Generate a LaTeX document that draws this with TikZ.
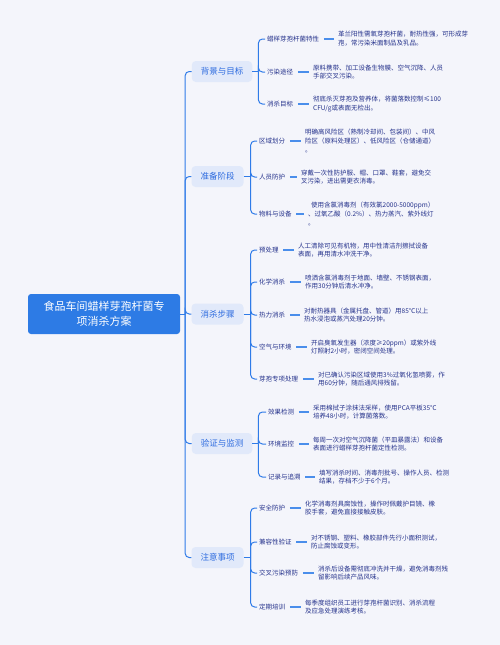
\documentclass[tikz,border=0pt]{standalone}
\usepackage{fontspec}
\setmainfont{Noto Sans CJK SC}
\definecolor{bg}{HTML}{F4F5FB}
\definecolor{rootc}{HTML}{2D7BE5}
\definecolor{catf}{HTML}{E1E9FA}
\definecolor{catt}{HTML}{2D6BDF}
\definecolor{lnc}{HTML}{2F7BE8}
\definecolor{leafc}{HTML}{4A8EEB}
\definecolor{navy}{HTML}{26338C}
\tikzset{
 rootbox/.style={fill=rootc, rounded corners=3pt, text=white, minimum width=152pt, minimum height=40pt, align=center, font=\fontsize{11}{15}\selectfont, inner sep=0},
 catbox/.style={fill=catf, rounded corners=4pt, text=catt, minimum height=21pt, inner xsep=9pt, inner ysep=0, font=\fontsize{8.5}{10}\selectfont},
 lab/.style={anchor=west, inner sep=0, text=navy, font=\fontsize{6.5}{8}\selectfont},
 leaf/.style={anchor=west, inner sep=0, text=navy, align=left, font=\fontsize{6.5}{8.8}\selectfont},
 br/.style={draw=lnc, line width=1pt, rounded corners=4pt},
 lk/.style={draw=leafc, line width=1.6pt, shorten <=4.5pt, shorten >=4.5pt},
}
\begin{document}
\begin{tikzpicture}[x=1pt,y=-1pt]
\path[fill=bg,use as bounding box] (0,0) rectangle (500,645);

% root and categories
\node[rootbox] (root) at (104,314) {食品车间蜡样芽孢杆菌专\\项消杀方案};
\node[catbox] (c1) at (222,71.5) {背景与目标};
\node[catbox] (c2) at (217.5,176.5) {准备阶段};
\node[catbox] (c3) at (217.5,314) {消杀步骤};
\node[catbox] (c4) at (222,443.5) {验证与监测};
\node[catbox] (c5) at (217.5,557.5) {注意事项};

\draw[br] (root.east) -- ++(5,0) coordinate (t);
\foreach \c in {c1,c2,c3,c4,c5} \draw[br] (t) |- (\c.west);

% ---------- 背景与目标
\draw[br] (c1.east) -- ++(6,0) coordinate (s1);
\node[lab] (b11) at (267,39) {蜡样芽孢杆菌特性};
\node[leaf] (l11) at (338,39) {革兰阳性需氧芽孢杆菌，耐热性强，可形成芽\\孢，常污染米面制品及乳品。};
\node[lab] (b12) at (267,72) {污染途径};
\node[leaf] (l12) at (313,72) {原料携带、加工设备生物膜、空气沉降、人员\\手部交叉污染。};
\node[lab] (b13) at (267,104) {消杀目标};
\node[leaf] (l13) at (313,104) {彻底杀灭芽孢及营养体，将菌落数控制≤100\\CFU/g或表面无检出。};

% ---------- 准备阶段
\draw[br] (c2.east) -- ++(7,0) coordinate (s2);
\node[lab] (b21) at (259,141) {区域划分};
\node[leaf] (l21) at (305,141) {明确高风险区（熟制冷却间、包装间）、中风\\险区（原料处理区）、低风险区（仓储通道）\\。};
\node[lab] (b22) at (259,177) {人员防护};
\node[leaf] (l22) at (301,177) {穿戴一次性防护服、帽、口罩、鞋套，避免交\\叉污染，进出需更衣消毒。};
\node[lab] (b23) at (259,214) {物料与设备};
\node[leaf] (l23) at (308,214) {\hspace*{3pt}使用含氯消毒剂（有效氯2000-5000ppm）\\、过氧乙酸（0.2\%）、热力蒸汽、紫外线灯\\。};

% ---------- 消杀步骤
\draw[br] (c3.east) -- ++(7,0) coordinate (s3);
\node[lab] (b31) at (259,250) {预处理};
\node[leaf] (l31) at (298,250) {人工清除可见有机物，用中性清洁剂擦拭设备\\表面，再用清水冲洗干净。};
\node[lab] (b32) at (259,282) {化学消杀};
\node[leaf] (l32) at (305,282) {喷洒含氯消毒剂于地面、墙壁、不锈钢表面，\\作用30分钟后清水冲净。};
\node[lab] (b33) at (259,315) {热力消杀};
\node[leaf] (l33) at (304,315) {对耐热器具（金属托盘、管道）用85℃以上\\热水浸泡或蒸汽处理20分钟。};
\node[lab] (b34) at (259,347) {空气与环境};
\node[leaf] (l34) at (311,347) {开启臭氧发生器（浓度≥20ppm）或紫外线\\灯照射2小时，密闭空间处理。};
\node[lab] (b35) at (259,379) {芽孢专项处理};
\node[leaf] (l35) at (318,379) {对已确认污染区域使用3\%过氧化氢喷雾，作\\用60分钟，随后通风排残留。};

% ---------- 验证与监测
\draw[br] (c4.east) -- ++(6,0) coordinate (s4);
\node[lab] (b41) at (268,412) {效果检测};
\node[leaf] (l41) at (313,412) {采用棉拭子涂抹法采样，使用PCA平板35℃\\培养48小时，计算菌落数。};
\node[lab] (b42) at (268,444) {环境监控};
\node[leaf] (l42) at (313,444) {每周一次对空气沉降菌（平皿暴露法）和设备\\表面进行蜡样芽孢杆菌定性检测。};
\node[lab] (b43) at (268,477) {记录与追溯};
\node[leaf] (l43) at (319,477) {填写消杀时间、消毒剂批号、操作人员、检测\\结果，存档不少于6个月。};

% ---------- 注意事项
\draw[br] (c5.east) -- ++(7,0) coordinate (s5);
\node[lab] (b51) at (259,508) {安全防护};
\node[leaf] (l51) at (305,508) {化学消毒剂具腐蚀性，操作时佩戴护目镜、橡\\胶手套，避免直接接触皮肤。};
\node[lab] (b52) at (259,542) {兼容性验证};
\node[leaf] (l52) at (311,542) {对不锈钢、塑料、橡胶部件先行小面积测试，\\防止腐蚀或变形。};
\node[lab] (b53) at (259,573) {交叉污染预防};
\node[leaf] (l53) at (318,573) {消杀后设备需彻底冲洗并干燥，避免消毒剂残\\留影响后续产品风味。};
\node[lab] (b54) at (259,607) {定期培训};
\node[leaf] (l54) at (305,607) {每季度组织员工进行芽孢杆菌识别、消杀流程\\及应急处理演练考核。};

% branches and leaf links
\foreach \s/\bs in {s1/{b11,b12,b13}, s2/{b21,b22,b23}, s3/{b31,b32,b33,b34,b35}, s4/{b41,b42,b43}, s5/{b51,b52,b53,b54}}{
  \foreach \b in \bs {
    \draw[br] (\s) |- ([xshift=-2pt]\b.west);
  }
}
\foreach \i in {11,12,13,21,22,23,31,32,33,34,35,41,42,43,51,52,53,54}{
  \draw[lk] (b\i.east) -- (b\i.east -| l\i.west);
}
\end{tikzpicture}
\end{document}
